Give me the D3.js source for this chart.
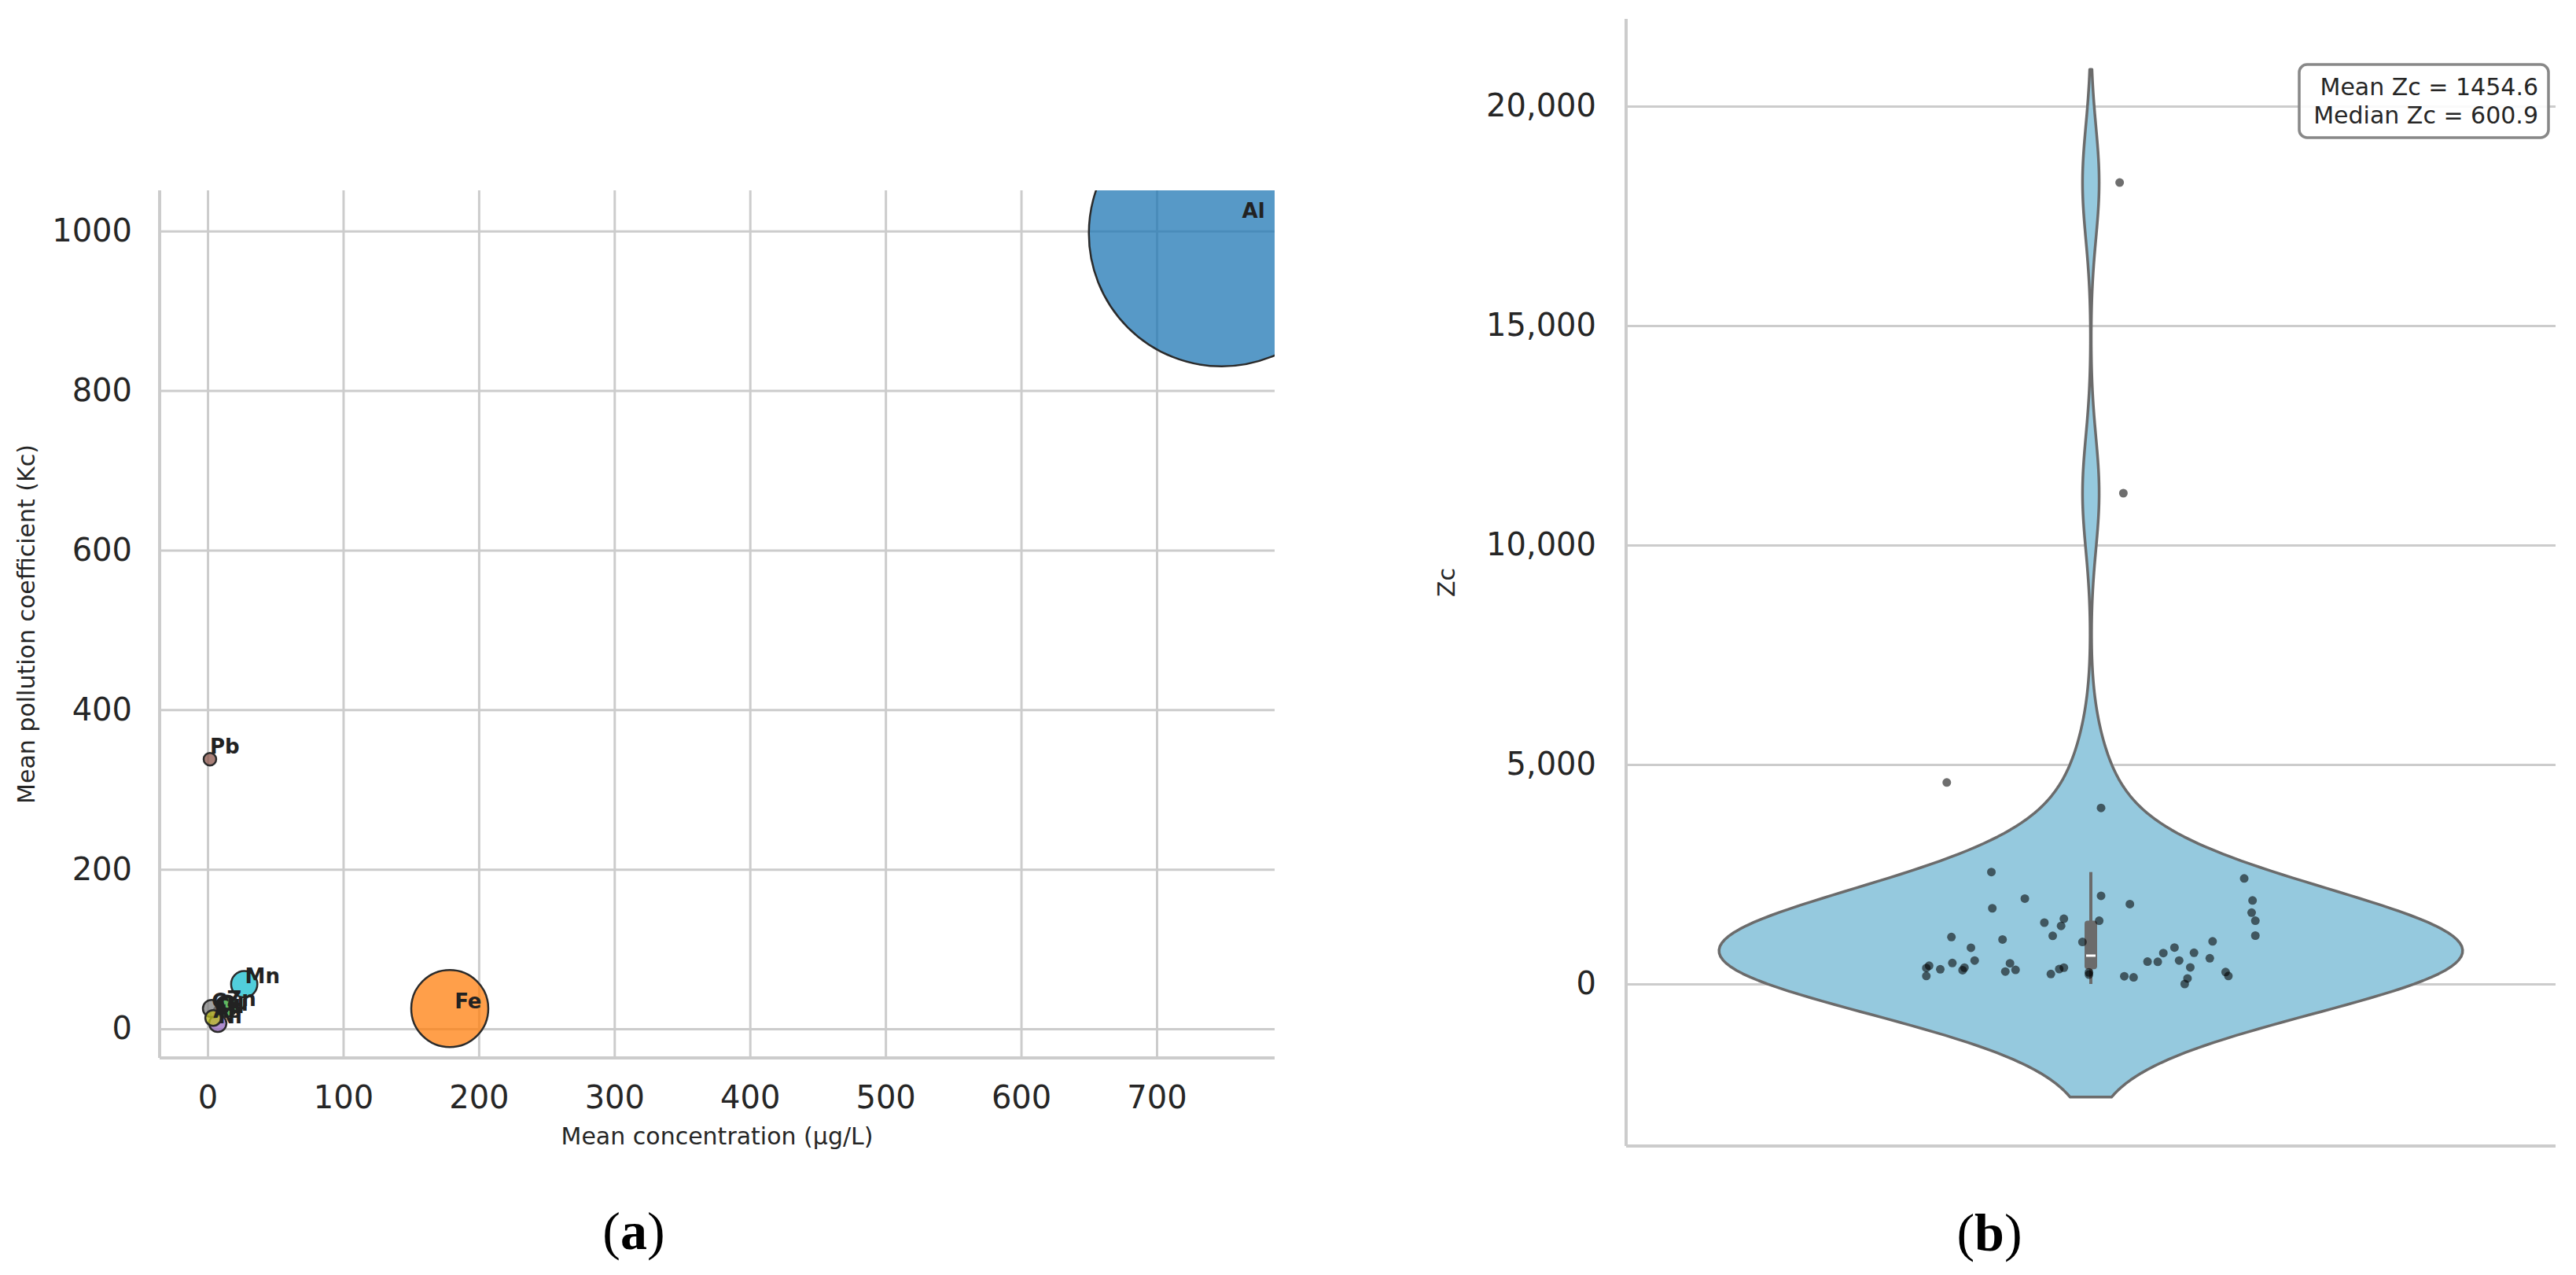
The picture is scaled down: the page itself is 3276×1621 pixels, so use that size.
<!DOCTYPE html>
<html>
<head>
<meta charset="utf-8">
<script src="https://cdn.jsdelivr.net/npm/d3@7"></script>
<style>
  body { margin: 0; background: #fff; }
  svg text { font-family: "DejaVu Sans", sans-serif; fill: #262626; }
</style>
</head>
<body>
<svg id="chart" width="3276" height="1621"></svg>
<script>
// ---- panel (a): bubble chart data ----
var elements  = ["Al", "Fe", "Zn", "Cu", "Ni", "Pb", "Cd", "Cr", "As", "Mn"];
var meanConc  = [748, 178.6, 13.9, 8, 7.5, 1.7, 5, 2.9, 4.1, 27];
var meanKc    = [997, 25.5, 28.4, 22, 6.9, 338, 19, 25.5, 13.7, 56];
var bubbleVal = [28561, 2401, 180, 40, 121, 64, 25, 121, 100, 279];
var elemColors = ["#1f77b4", "#ff7f0e", "#2ca02c", "#d62728", "#9467bd",
                  "#8c564b", "#e377c2", "#7f7f7f", "#bcbd22", "#17becf"];
var xTicksA = [0, 100, 200, 300, 400, 500, 600, 700];
var yTicksA = [0, 200, 400, 600, 800, 1000];

// ---- panel (b): violin of Zc ----
var zcValues = [4591, 4011, 2550, 2405, 2009, 1946, 1820, 1725, 1902, 1625,
                1442, 1486, 1398, 1322, 1442, 1096, 1102, 1070, 1014, 957,
                970, 825, 831, 705, 712, 535, 479, 472, 510, 504,
                535, 586, 416, 365, 334, 372, 315, 283, 321, 372,
                340, 227, 264, 214, 176, 151, 378, 126, 0, 271,
                183, 183, 18262, 11183];
// horizontal strip jitter (category units)
var zcJitter = [-0.155, 0.011, -0.107, 0.165, 0.011, -0.071, 0.042, -0.106, 0.174, 0.173,
                0.177, -0.029, -0.050, -0.032, 0.009, -0.041, 0.177, -0.150, -0.095, -0.009,
                0.131, -0.129, 0.090, 0.078, 0.111, -0.125, -0.149, -0.087, 0.061, 0.072,
                0.095, 0.128, -0.174, -0.177, -0.162, -0.136, -0.138, -0.092, -0.081, -0.029,
                -0.034, -0.043, -0.002, -0.002, 0.036, 0.046, 0.107, 0.104, 0.101, 0.145,
                0.148, -0.177, 0.031, 0.035];
var yTicksB = [0, 5000, 10000, 15000, 20000];
var statLines = ["Mean Zc = 1454.6", "Median Zc = 600.9"];

var svg = d3.select("#chart");
var gridColor = "#cccccc";

// ================= panel (a) =================
var a = { left: 203, right: 1621, top: 242, bottom: 1345 };

var xA = d3.scaleLinear().domain([-35.4, 787]).range([a.left, a.right]);
var yA = d3.scaleLinear().domain([-36.4, 1051]).range([a.bottom, a.top]);
var rA = d3.scaleSqrt().domain([0, d3.max(bubbleVal)]).range([0, 169]);

var gA = svg.append("g");

// axes, tick lines double as grid
var xAxisA = gA.append("g")
  .attr("transform", `translate(0, ${a.bottom})`)
  .call(d3.axisBottom(xA).tickValues(xTicksA).tickFormat(d3.format("d"))
    .tickSize(-(a.bottom - a.top)).tickPadding(36));
var yAxisA = gA.append("g")
  .attr("transform", `translate(${a.left}, 0)`)
  .call(d3.axisLeft(yA).tickValues(yTicksA).tickFormat(d3.format("d"))
    .tickSize(-(a.right - a.left)).tickPadding(35));

[xAxisA, yAxisA].forEach(function(ax) {
  ax.select(".domain").remove();
  ax.selectAll(".tick line").attr("stroke", gridColor).attr("stroke-width", 3);
  ax.selectAll(".tick text").attr("font-size", 40).attr("fill", "#262626")
    .attr("font-family", "DejaVu Sans, sans-serif");
});

// spines
gA.append("line").attr("x1", a.left).attr("x2", a.left).attr("y1", a.top).attr("y2", a.bottom)
  .attr("stroke", gridColor).attr("stroke-width", 4);
gA.append("line").attr("x1", a.left).attr("x2", a.right).attr("y1", a.bottom).attr("y2", a.bottom)
  .attr("stroke", gridColor).attr("stroke-width", 4);

svg.append("clipPath").attr("id", "clipA")
  .append("rect").attr("x", a.left).attr("y", a.top)
  .attr("width", a.right - a.left).attr("height", a.bottom - a.top);

var bubbleData = elements.map(function(e, i) {
  return { name: e, x: meanConc[i], y: meanKc[i], s: bubbleVal[i], color: elemColors[i] };
});

gA.append("g").attr("clip-path", "url(#clipA)")
  .selectAll("circle")
  .data(bubbleData)
  .enter()
  .append("circle")
  .attr("cx", d => xA(d.x))
  .attr("cy", d => yA(d.y))
  .attr("r", d => rA(d.s))
  .attr("fill", d => d.color)
  .attr("fill-opacity", 0.75)
  .attr("stroke", "#2b2b2b")
  .attr("stroke-width", 2.5);

// labels placed a little up-right of each point
gA.append("g").selectAll("text")
  .data(bubbleData)
  .enter()
  .append("text")
  .attr("x", d => xA(d.x * 1.02))
  .attr("y", d => yA(d.y * 1.02))
  .attr("font-size", 26)
  .attr("font-weight", "bold")
  .style("fill", "#222")
  .text(d => d.name);

gA.append("text")
  .attr("x", (a.left + a.right) / 2)
  .attr("y", 1455)
  .attr("text-anchor", "middle")
  .attr("font-size", 30)
  .text("Mean concentration (µg/L)");

gA.append("text")
  .attr("transform", `translate(44, ${(a.top + a.bottom) / 2}) rotate(-90)`)
  .attr("text-anchor", "middle")
  .attr("font-size", 30)
  .text("Mean pollution coefficient (Kc)");

var labA = gA.append("text")
  .attr("x", 806).attr("y", 1588)
  .attr("text-anchor", "middle")
  .attr("font-size", 68)
  .style("font-family", "'Liberation Serif', serif")
  .style("fill", "#000");
labA.append("tspan").text("(");
labA.append("tspan").attr("font-weight", "bold").text("a");
labA.append("tspan").text(")");

// ================= panel (b) =================
var b = { left: 2068, right: 3250, top: 24, bottom: 1457 };

var yB = d3.scaleLinear().domain([-3692, 21990]).range([b.bottom, b.top]);
var xB = d3.scaleLinear().domain([-0.5, 0.5]).range([b.left, b.right]);

var gB = svg.append("g");

var yAxisB = gB.append("g")
  .attr("transform", `translate(${b.left}, 0)`)
  .call(d3.axisLeft(yB).tickValues(yTicksB).tickFormat(d3.format(","))
    .tickSize(-(b.right - b.left)).tickPadding(38));
yAxisB.select(".domain").remove();
yAxisB.selectAll(".tick line").attr("stroke", gridColor).attr("stroke-width", 3);
yAxisB.selectAll(".tick text").attr("font-size", 40).attr("fill", "#262626")
  .attr("font-family", "DejaVu Sans, sans-serif");

gB.append("line").attr("x1", b.left).attr("x2", b.left).attr("y1", b.top).attr("y2", b.bottom)
  .attr("stroke", gridColor).attr("stroke-width", 4);
gB.append("line").attr("x1", b.left).attr("x2", b.right).attr("y1", b.bottom).attr("y2", b.bottom)
  .attr("stroke", gridColor).attr("stroke-width", 4);

// gaussian KDE, Scott bandwidth, cut = 2 (as seaborn)
var n = zcValues.length;
var sd = d3.deviation(zcValues);
var bw = sd * Math.pow(n, -1 / 5);
var lo = d3.min(zcValues) - 2 * bw, hi = d3.max(zcValues) + 2 * bw;
var grid = d3.range(0, 301).map(i => lo + (hi - lo) * i / 300);
var dens = grid.map(function(g) {
  var s = 0;
  zcValues.forEach(function(v) { var z = (g - v) / bw; s += Math.exp(-0.5 * z * z); });
  return { v: g, d: s / (n * bw * Math.sqrt(2 * Math.PI)) };
});
var maxD = d3.max(dens, d => d.d);
var halfW = 0.4;

var violinArea = d3.area()
  .y(d => yB(d.v))
  .x0(d => xB(-halfW * d.d / maxD))
  .x1(d => xB(halfW * d.d / maxD))
  .curve(d3.curveLinear);

gB.append("path")
  .datum(dens)
  .attr("d", violinArea)
  .attr("fill", "#95c9de")
  .attr("stroke", "#6b6b6b")
  .attr("stroke-width", 3.5)
  .attr("stroke-linejoin", "round");

// inner box
var sorted = zcValues.slice().sort(d3.ascending);
var q1 = d3.quantile(sorted, 0.25), q2 = d3.quantile(sorted, 0.5), q3 = d3.quantile(sorted, 0.75);
var iqr = q3 - q1;
var wLo = d3.min(sorted.filter(v => v >= q1 - 1.5 * iqr));
var wHi = d3.max(sorted.filter(v => v <= q3 + 1.5 * iqr));

gB.append("line")
  .attr("x1", xB(0)).attr("x2", xB(0))
  .attr("y1", yB(wLo)).attr("y2", yB(wHi))
  .attr("stroke", "#6b6b6b").attr("stroke-width", 4);
gB.append("rect")
  .attr("x", xB(0) - 8).attr("width", 16)
  .attr("y", yB(q3)).attr("height", yB(q1) - yB(q3))
  .attr("rx", 4)
  .attr("fill", "#6b6b6b");
gB.append("rect")
  .attr("x", xB(0) - 6).attr("width", 12)
  .attr("y", yB(q2) - 1.5).attr("height", 3)
  .attr("fill", "#fff");

// strip points
gB.append("g").selectAll("circle")
  .data(zcValues)
  .enter()
  .append("circle")
  .attr("cx", (d, i) => xB(zcJitter[i]))
  .attr("cy", d => yB(d))
  .attr("r", 5.5)
  .attr("fill", "#000")
  .attr("fill-opacity", 0.57);

gB.append("text")
  .attr("transform", `translate(1850, ${(b.top + b.bottom) / 2}) rotate(-90)`)
  .attr("text-anchor", "middle")
  .attr("font-size", 30)
  .text("Zc");

// stats box
gB.append("rect")
  .attr("x", 2924).attr("y", 82)
  .attr("width", 317).attr("height", 93)
  .attr("rx", 10)
  .attr("fill", "#fff").attr("fill-opacity", 0.9)
  .attr("stroke", "#888").attr("stroke-width", 3.5);
gB.append("g").selectAll("text")
  .data(statLines)
  .enter()
  .append("text")
  .attr("x", 3228)
  .attr("y", (d, i) => 121 + i * 36)
  .attr("text-anchor", "end")
  .attr("font-size", 30)
  .text(d => d);

var labB = gB.append("text")
  .attr("x", 2530).attr("y", 1590)
  .attr("text-anchor", "middle")
  .attr("font-size", 68)
  .style("font-family", "'Liberation Serif', serif")
  .style("fill", "#000");
labB.append("tspan").text("(");
labB.append("tspan").attr("font-weight", "bold").text("b");
labB.append("tspan").text(")");
</script>
</body>
</html>
